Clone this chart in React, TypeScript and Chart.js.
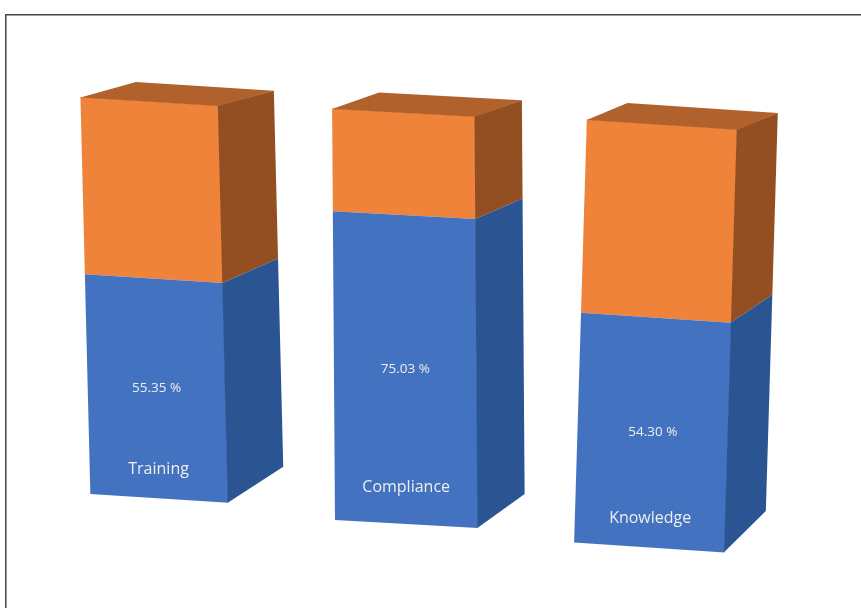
import { useEffect, useRef } from 'react';
import { Chart, registerables } from 'chart.js';

Chart.register(...registerables);

// ---- data ----
const categories = ['Training', 'Compliance', 'Knowledge'];
const achieved = [55.35, 75.03, 54.3];
const remaining = [44.65, 24.97, 45.7];
const valueLabels = ['55.35 %', '75.03 %', '54.30 %'];

// ---- per-bar axis ranges (photo perspective: each column sits at its own height) ----
const axisMin = [-27.6, -20.4, -14.3];
const axisMax = [125.5, 127.3, 129.4];

// ---- styles ----
const BLUE_FRONT = '#4373C0';
const BLUE_SIDE = '#2A5592';
const ORANGE_FRONT = '#EF833A';
const ORANGE_SIDE = '#934F22';
const ORANGE_TOP = '#B0612C';
const TEXT_COLOR = '#EEEEEE';
const barPct = [0.55, 0.57, 0.6];
const skewX = [0.025, 0.007, -0.03];
const skewY = [0.063, 0.055, 0.065];
const depthX = [56, 47, 40];
const depthTopY = [-18.5, -18.6, -19];
const depthBotY = [-39.5, -36.6, -44];
const labelLift = [29, 37, 29];

function geom(chart: any, i: number) {
  const b = chart.getDatasetMeta(2 * i).data[i];
  const o = chart.getDatasetMeta(2 * i + 1).data[i];
  const top = o.y;
  const base = b.base;
  return { top, base, cx: b.x, w: b.width, blueTop: b.y, cy: (top + base) / 2 };
}

const box3d = {
  id: 'box3d',
  beforeDraw(chart: any) {
    const ctx = chart.ctx;
    ctx.save();
    ctx.strokeStyle = '#444';
    ctx.lineWidth = 1.5;
    ctx.beginPath();
    ctx.moveTo(5.8, chart.height + 2);
    ctx.lineTo(5.8, 14.8);
    ctx.lineTo(chart.width + 2, 14.8);
    ctx.stroke();
    ctx.restore();
  },
  beforeDatasetDraw(chart: any, args: any) {
    const i = Math.floor(args.index / 2);
    const g = geom(chart, i);
    const ctx = chart.ctx;
    ctx.save();
    ctx.translate(g.cx, g.cy);
    ctx.transform(1, skewY[i], skewX[i], 1, 0, 0);
    ctx.translate(-g.cx, -g.cy);
  },
  afterDatasetDraw(chart: any, args: any) {
    const d = args.index;
    const i = Math.floor(d / 2);
    const g = geom(chart, i);
    const ctx = chart.ctx;
    const el = args.meta.data[i];
    const right = g.cx + g.w / 2;
    const left = g.cx - g.w / 2;
    const dx = depthX[i];
    const dyAt = (y: number) =>
      depthTopY[i] + (depthBotY[i] - depthTopY[i]) * ((y - g.top) / (g.base - g.top));
    const yT = el.y;
    const yB = el.base;
    const isOrange = d % 2 === 1;
    ctx.fillStyle = isOrange ? ORANGE_SIDE : BLUE_SIDE;
    ctx.beginPath();
    ctx.moveTo(right - 0.5, yT);
    ctx.lineTo(right + dx, yT + dyAt(yT));
    ctx.lineTo(right + dx, yB + dyAt(yB));
    ctx.lineTo(right - 0.5, yB);
    ctx.closePath();
    ctx.fill();
    if (isOrange) {
      const t = g.top;
      const dt = depthTopY[i];
      ctx.fillStyle = ORANGE_TOP;
      ctx.beginPath();
      ctx.moveTo(left, t + 0.5);
      ctx.lineTo(left + dx, t + dt);
      ctx.lineTo(right + dx, t + dt);
      ctx.lineTo(right, t + 0.5);
      ctx.closePath();
      ctx.fill();
    }
    ctx.restore();
  },
  afterDatasetsDraw(chart: any) {
    const ctx = chart.ctx;
    ctx.save();
    ctx.fillStyle = TEXT_COLOR;
    ctx.textAlign = 'center';
    ctx.textBaseline = 'middle';
    for (let i = 0; i < categories.length; i++) {
      const g = geom(chart, i);
      const vy = (g.blueTop + g.base) / 2;
      ctx.font = '13.5px "Open Sans"';
      ctx.fillText(valueLabels[i], g.cx + skewX[i] * (vy - g.cy), vy);
      const ly = g.base - labelLift[i];
      ctx.font = '16px "Open Sans"';
      ctx.fillText(categories[i], g.cx + skewX[i] * (ly - g.cy), ly);
    }
    ctx.restore();
  },
};

export default function App() {
  const ref = useRef<HTMLCanvasElement>(null);
  useEffect(() => {
    const datasets: any[] = [];
    categories.forEach((_, i) => {
      datasets.push({
        label: categories[i] + ' achieved',
        data: categories.map((__, j) => (j === i ? achieved[i] : null)),
        backgroundColor: BLUE_FRONT,
        yAxisID: 'y' + i,
        stack: 's',
        barPercentage: barPct[i],
        categoryPercentage: 1,
        clip: false,
      });
      datasets.push({
        label: categories[i] + ' remaining',
        data: categories.map((__, j) => (j === i ? remaining[i] : null)),
        backgroundColor: ORANGE_FRONT,
        yAxisID: 'y' + i,
        stack: 's',
        barPercentage: barPct[i],
        categoryPercentage: 1,
        clip: false,
      });
    });
    const scales: any = {
      x: { type: 'category', display: false, stacked: true },
    };
    categories.forEach((_, i) => {
      scales['y' + i] = {
        type: 'linear',
        display: false,
        stacked: true,
        min: axisMin[i],
        max: axisMax[i],
      };
    });
    const chart = new Chart(ref.current!, {
      type: 'bar',
      data: { labels: categories, datasets },
      options: {
        responsive: false,
        animation: false,
        devicePixelRatio: 1,
        layout: { padding: { left: 29, right: 80, top: 0, bottom: 0 } },
        plugins: { legend: { display: false }, tooltip: { enabled: false } },
        scales,
      },
      plugins: [box3d],
    });
    return () => chart.destroy();
  }, []);
  return (
    <div style={{ position: 'absolute', left: 0, top: 0, width: 861, height: 608, background: '#fff' }}>
      <canvas ref={ref} width={861} height={608} style={{ display: 'block' }} />
    </div>
  );
}
